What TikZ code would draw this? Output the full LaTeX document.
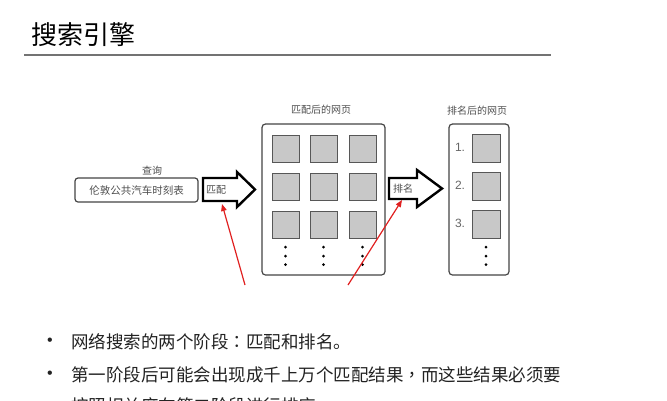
\documentclass[tikz,border=0pt]{standalone}
\usepackage{fontspec}
\setmainfont{Liberation Sans}
\newfontfamily\cjk{Noto Sans CJK SC}
\newfontfamily\cjkp{Noto Sans CJK TC}
\usetikzlibrary{arrows.meta}
\definecolor{txt}{HTML}{222222}
\definecolor{boxline}{HTML}{444444}
\definecolor{sq}{HTML}{C8C8C8}
\definecolor{redline}{HTML}{E02020}
\tikzset{
  cjksmall/.style={font=\cjk\fontsize{10}{12}\selectfont, text=txt!80, inner sep=0},
  bigbox/.style={draw=boxline, line width=1.2pt, rounded corners=3.5pt, inner sep=0},
  gsq/.style={draw=boxline!90, fill=sq, line width=0.8pt, minimum size=27pt, inner sep=0},
  blockarrow/.style={draw=black, line width=2.4pt, fill=white, line join=miter},
  vdot/.style={circle, fill=black, minimum size=3pt, inner sep=0},
  redarrow/.style={draw=redline, line width=1.2pt, -{Triangle[length=7pt,width=5.5pt]}},
  bullettxt/.style={font=\cjk\fontsize{17.5}{20}\selectfont, text=txt, inner sep=0, anchor=west},
  bulletdot/.style={font=\fontsize{16}{16}\selectfont, text=txt, inner sep=0},
  numtxt/.style={font=\fontsize{12}{14}\selectfont, text=black!60, inner sep=0}
}
\begin{document}
\begin{tikzpicture}[x=1pt,y=-1pt]
\useasboundingbox (0,0) rectangle (667,400);
\clip (0,0) rectangle (667,400);
% title
\node[anchor=west, inner sep=0, font=\cjk\fontsize{26}{28}\selectfont, text=black] (title) at (31,35) {搜索引擎};
\draw[black!55, line width=1.3pt] (24,55) -- (551,55);
% query
\node[cjksmall] (qlabel) at (152,171) {查询};
\node[draw=boxline, line width=1.2pt, rounded corners=3pt, minimum width=123pt, minimum height=24pt, inner sep=0, font=\cjk\fontsize{10.5}{12}\selectfont, text=txt!80] (query) at (136.5,190) {伦敦公共汽车时刻表};
% match arrow
\draw[blockarrow] (203,178) -- (237,178) -- (237,172) -- (255,189.5) -- (237,207) -- (237,201) -- (203,201) -- cycle;
\node[cjksmall, anchor=west] (match) at (206,189.5) {匹配};
\coordinate (t1) at (222,204);
% matched pages
\node[cjksmall] (plabel) at (321,110) {匹配后的网页};
\node[bigbox, minimum width=123pt, minimum height=151pt] (pages) at (323.5,199.5) {};
\foreach \cx [count=\i] in {285.5,323.5,362.5}{
  \foreach \cy [count=\j] in {148.5,186.5,224.5}{
    \node[gsq] (p\i\j) at (\cx,\cy) {};
  }
  \foreach \dy [count=\k] in {247,256,264.5}{
    \node[vdot] (pd\i\k) at (\cx,\dy) {};
  }
}
% rank arrow
\draw[blockarrow] (389,178) -- (417,178) -- (417,170) -- (442,188.5) -- (417,207) -- (417,199) -- (389,199) -- cycle;
\node[cjksmall, anchor=west] (rank) at (393,188.5) {排名};
\coordinate (t2) at (402,200);
% ranked pages
\node[cjksmall] (rlabel) at (477,111) {排名后的网页};
\node[bigbox, minimum width=60pt, minimum height=151pt] (ranked) at (479,199.5) {};
\foreach \cy [count=\j] in {148,186,224.5}{
  \node[gsq, minimum size=28pt] (r\j) at (486,\cy) {};
  \node[numtxt] (n\j) at (460,\cy-1) {\j.};
}
\foreach \dy [count=\k] in {247,256,264.5}{
  \node[vdot] (rd\k) at (486,\dy) {};
}
% red arrows
\coordinate (s1) at (245,285);
\coordinate (s2) at (348,285);
\draw[redarrow] (s1) -- (t1);
\draw[redarrow] (s2) -- (t2);
% bullets
\node[bulletdot] (b1) at (50,342) {•};
\node[bullettxt] (l1) at (71,342) {网络搜索的两个阶段{\cjkp ：}匹配和排名。};
\node[bulletdot] (b2) at (50,375) {•};
\node[bullettxt] (l2) at (71,375) {第一阶段后可能会出现成千上万个匹配结果{\cjkp ，}而这些结果必须要};
\node[bullettxt] (l3) at (71,406) {按照相关度在第二阶段进行排序};
\end{tikzpicture}
\end{document}
